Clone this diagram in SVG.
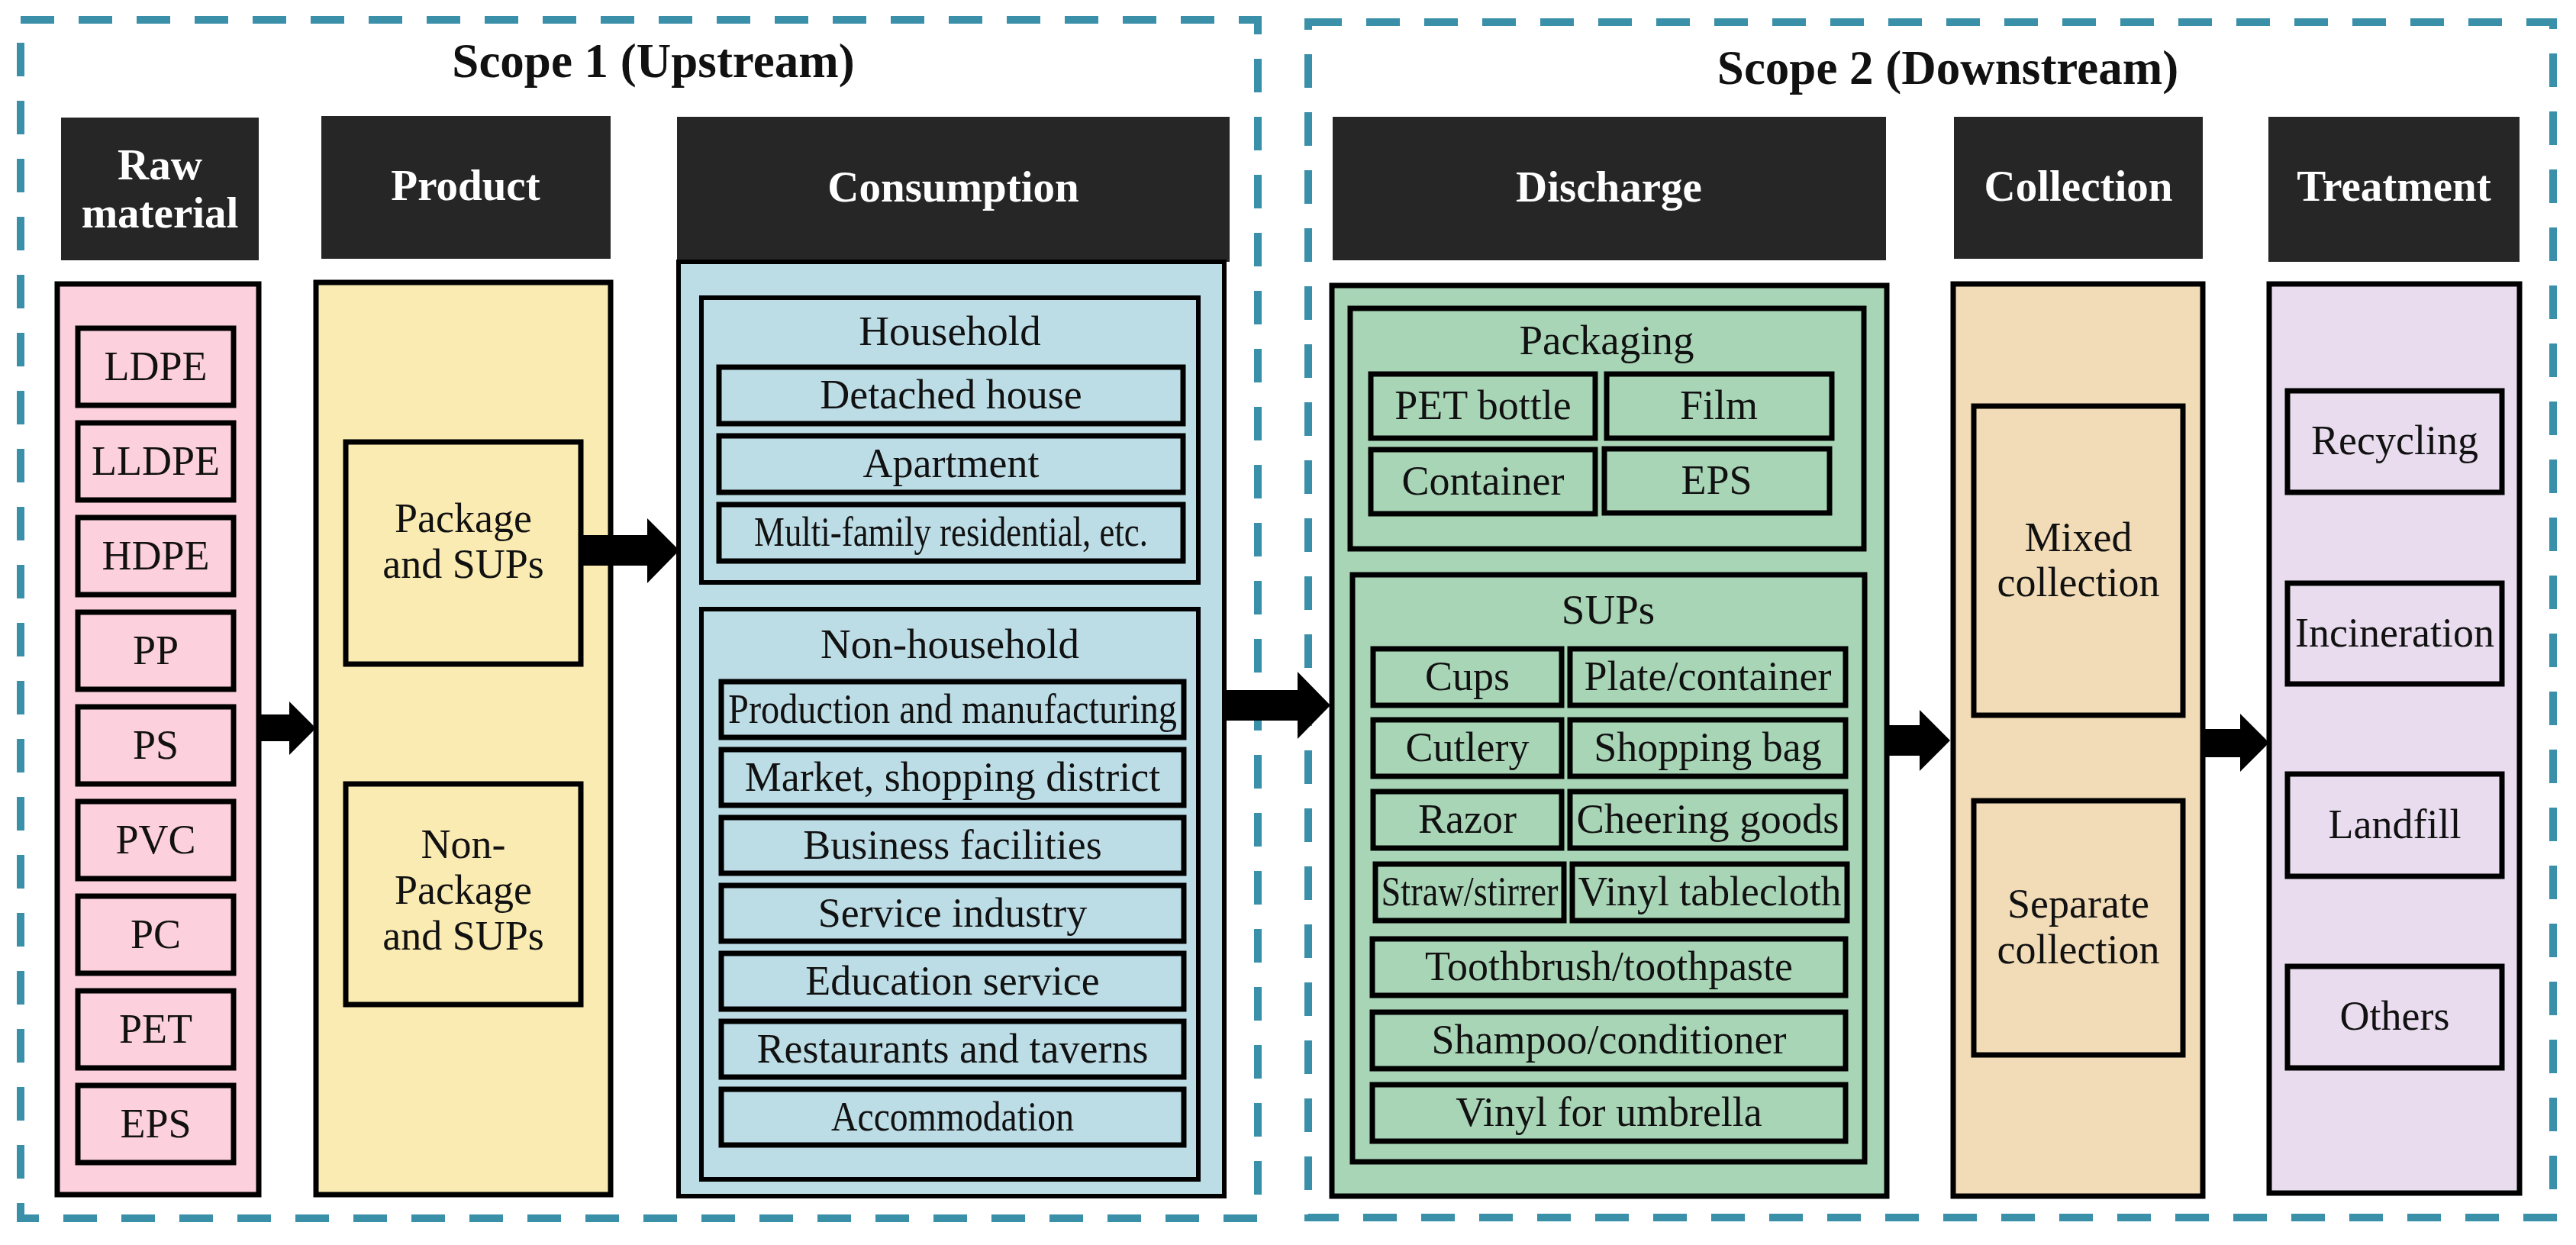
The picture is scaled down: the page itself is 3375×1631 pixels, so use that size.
<svg xmlns="http://www.w3.org/2000/svg" width="3375" height="1631" viewBox="0 0 3375 1631">
<style>
.scope{fill:none;stroke:#3a8fa9;stroke-width:10;stroke-dasharray:44 32}
.hdr{fill:#262626}
.ht{font-family:"Liberation Serif",serif;font-weight:bold;font-size:57px;fill:#fff;text-anchor:middle}
.st{font-family:"Liberation Serif",serif;font-weight:bold;font-size:63px;fill:#111;text-anchor:middle}
.t{font-family:"Liberation Serif",serif;font-size:54px;fill:#111;text-anchor:middle}
.gt{font-size:55px}
.b{stroke:#000;stroke-width:7}
.bt{stroke:#000;stroke-width:6}
.pink{fill:#fcd0dc}
.yel{fill:#f9ebb2}
.blu{fill:#bddde6}
.grn{fill:#a9d5b7}
.tan{fill:#f2dcb7}
.lav{fill:#e8dcee}
.arr{fill:#000}
</style>

<g id="scope1">
<rect class="scope" x="27" y="26" width="1621" height="1570"/>
<text class="st" x="856" y="101">Scope 1 (Upstream)</text>
</g>
<g id="scope2">
<rect class="scope" x="1714" y="29" width="1631" height="1566"/>
<text class="st" x="2552" y="110">Scope 2 (Downstream)</text>
</g>

<g id="hdr-raw"><rect class="hdr" x="80" y="154" width="259" height="187"/><text class="ht" x="209.5" y="235">Raw</text><text class="ht" x="209.5" y="298">material</text></g>
<g id="hdr-product"><rect class="hdr" x="421" y="152" width="379" height="187"/><text class="ht" x="610" y="262">Product</text></g>
<g id="hdr-consumption"><rect class="hdr" x="887" y="153" width="724" height="190"/><text class="ht" x="1249" y="264">Consumption</text></g>
<g id="hdr-discharge"><rect class="hdr" x="1746" y="153" width="725" height="188"/><text class="ht" x="2108" y="264">Discharge</text></g>
<g id="hdr-collection"><rect class="hdr" x="2560" y="153" width="326" height="186"/><text class="ht" x="2723" y="263">Collection</text></g>
<g id="hdr-treatment"><rect class="hdr" x="2972" y="153" width="329" height="190"/><text class="ht" x="3136.5" y="263">Treatment</text></g>

<g id="raw-material">
<rect class="b pink" x="75" y="372" width="264" height="1193"/>
<g id="raw-ldpe"><rect class="b pink" x="102" y="430" width="204" height="101"/><text class="t" x="204" y="498">LDPE</text></g>
<g id="raw-lldpe"><rect class="b pink" x="102" y="554" width="204" height="101"/><text class="t" x="204" y="622">LLDPE</text></g>
<g id="raw-hdpe"><rect class="b pink" x="102" y="678" width="204" height="101"/><text class="t" x="204" y="746">HDPE</text></g>
<g id="raw-pp"><rect class="b pink" x="102" y="802" width="204" height="101"/><text class="t" x="204" y="870">PP</text></g>
<g id="raw-ps"><rect class="b pink" x="102" y="926" width="204" height="101"/><text class="t" x="204" y="994">PS</text></g>
<g id="raw-pvc"><rect class="b pink" x="102" y="1050" width="204" height="101"/><text class="t" x="204" y="1118">PVC</text></g>
<g id="raw-pc"><rect class="b pink" x="102" y="1174" width="204" height="101"/><text class="t" x="204" y="1242">PC</text></g>
<g id="raw-pet"><rect class="b pink" x="102" y="1298" width="204" height="101"/><text class="t" x="204" y="1366">PET</text></g>
<g id="raw-eps"><rect class="b pink" x="102" y="1422" width="204" height="101"/><text class="t" x="204" y="1490">EPS</text></g>
</g>

<g id="product">
<rect class="b yel" x="414" y="370" width="386" height="1195"/>
<g id="prod-package"><rect class="b yel" x="453" y="579" width="308" height="291"/><text class="t" x="607" y="697">Package</text><text class="t" x="607" y="757">and SUPs</text></g>
<g id="prod-nonpackage"><rect class="b yel" x="453" y="1027" width="308" height="289"/><text class="t" x="607" y="1124">Non-</text><text class="t" x="607" y="1184">Package</text><text class="t" x="607" y="1244">and SUPs</text></g>
</g>

<g id="consumption">
<rect class="bt blu" x="889" y="343" width="715" height="1224"/>
<g id="cons-household">
<rect class="bt blu" x="919" y="390" width="651" height="373"/>
<text class="t gt" x="1244.5" y="452">Household</text>
<g id="cons-detached"><rect class="b blu" x="942" y="481" width="608" height="74"/><text class="t" x="1246" y="535">Detached house</text></g>
<g id="cons-apartment"><rect class="b blu" x="942" y="571" width="608" height="74"/><text class="t" x="1246" y="625">Apartment</text></g>
<g id="cons-multifamily"><rect class="b blu" x="942" y="661" width="608" height="74"/><text class="t" x="1246" y="715" textLength="516" lengthAdjust="spacingAndGlyphs">Multi-family residential, etc.</text></g>
</g>
<g id="cons-nonhousehold">
<rect class="bt blu" x="919" y="798" width="651" height="747"/>
<text class="t gt" x="1244.5" y="862">Non-household</text>
<g id="cons-production"><rect class="b blu" x="945" y="893" width="606" height="73"/><text class="t" x="1248" y="947" textLength="588" lengthAdjust="spacingAndGlyphs">Production and manufacturing</text></g>
<g id="cons-market"><rect class="b blu" x="945" y="982" width="606" height="73"/><text class="t" x="1248" y="1036">Market, shopping district</text></g>
<g id="cons-business"><rect class="b blu" x="945" y="1071" width="606" height="73"/><text class="t" x="1248" y="1125">Business facilities</text></g>
<g id="cons-service"><rect class="b blu" x="945" y="1160" width="606" height="73"/><text class="t" x="1248" y="1214">Service industry</text></g>
<g id="cons-education"><rect class="b blu" x="945" y="1249" width="606" height="73"/><text class="t" x="1248" y="1303">Education service</text></g>
<g id="cons-restaurants"><rect class="b blu" x="945" y="1338" width="606" height="73"/><text class="t" x="1248" y="1392">Restaurants and taverns</text></g>
<g id="cons-accommodation"><rect class="b blu" x="945" y="1427" width="606" height="73"/><text class="t" x="1248" y="1481" textLength="318" lengthAdjust="spacingAndGlyphs">Accommodation</text></g>
</g>
</g>

<g id="discharge">
<rect class="b grn" x="1745" y="374" width="727" height="1193"/>
<g id="dis-packaging">
<rect class="b grn" x="1769" y="404" width="673" height="315"/>
<text class="t gt" x="2105" y="464">Packaging</text>
<g id="dis-petbottle"><rect class="b grn" x="1796" y="490" width="294" height="84"/><text class="t" x="1943" y="549">PET bottle</text></g>
<g id="dis-film"><rect class="b grn" x="2105" y="490" width="295" height="84"/><text class="t" x="2252" y="549">Film</text></g>
<g id="dis-container"><rect class="b grn" x="1796" y="589" width="294" height="84"/><text class="t" x="1943" y="648">Container</text></g>
<g id="dis-eps"><rect class="b grn" x="2102" y="588" width="295" height="84"/><text class="t" x="2249" y="647">EPS</text></g>
</g>
<g id="dis-sups">
<rect class="b grn" x="1772" y="753" width="671" height="769"/>
<text class="t gt" x="2107" y="817">SUPs</text>
<g id="dis-cups"><rect class="b grn" x="1799" y="850" width="247" height="74"/><text class="t" x="1922.5" y="904">Cups</text></g>
<g id="dis-plate"><rect class="b grn" x="2057" y="850" width="361" height="74"/><text class="t" x="2237.5" y="904">Plate/container</text></g>
<g id="dis-cutlery"><rect class="b grn" x="1799" y="943" width="247" height="74"/><text class="t" x="1922.5" y="997">Cutlery</text></g>
<g id="dis-shoppingbag"><rect class="b grn" x="2057" y="943" width="361" height="74"/><text class="t" x="2237.5" y="997">Shopping bag</text></g>
<g id="dis-razor"><rect class="b grn" x="1799" y="1037" width="247" height="74"/><text class="t" x="1922.5" y="1091">Razor</text></g>
<g id="dis-cheering"><rect class="b grn" x="2057" y="1037" width="361" height="74"/><text class="t" x="2237.5" y="1091" textLength="344" lengthAdjust="spacingAndGlyphs">Cheering goods</text></g>
<g id="dis-straw"><rect class="b grn" x="1802" y="1132" width="247" height="74"/><text class="t" x="1925.5" y="1186" textLength="232" lengthAdjust="spacingAndGlyphs">Straw/stirrer</text></g>
<g id="dis-tablecloth"><rect class="b grn" x="2060" y="1132" width="360" height="74"/><text class="t" x="2240" y="1186" textLength="345" lengthAdjust="spacingAndGlyphs">Vinyl tablecloth</text></g>
<g id="dis-toothbrush"><rect class="b grn" x="1798" y="1230" width="620" height="74"/><text class="t" x="2108" y="1284">Toothbrush/toothpaste</text></g>
<g id="dis-shampoo"><rect class="b grn" x="1798" y="1326" width="620" height="74"/><text class="t" x="2108" y="1380">Shampoo/conditioner</text></g>
<g id="dis-umbrella"><rect class="b grn" x="1798" y="1421" width="620" height="74"/><text class="t" x="2108" y="1475">Vinyl for umbrella</text></g>
</g>
</g>

<g id="collection">
<rect class="b tan" x="2559" y="372" width="327" height="1195"/>
<g id="col-mixed"><rect class="b tan" x="2586" y="532" width="274" height="405"/><text class="t" x="2723" y="722">Mixed</text><text class="t" x="2723" y="781">collection</text></g>
<g id="col-separate"><rect class="b tan" x="2586" y="1049" width="274" height="333"/><text class="t" x="2723" y="1202">Separate</text><text class="t" x="2723" y="1262">collection</text></g>
</g>

<g id="treatment">
<rect class="b lav" x="2973" y="372" width="328" height="1191"/>
<g id="trt-recycling"><rect class="b lav" x="2997" y="512" width="281" height="133"/><text class="t" x="3137.5" y="595">Recycling</text></g>
<g id="trt-incineration"><rect class="b lav" x="2997" y="764" width="281" height="132"/><text class="t" x="3137.5" y="847">Incineration</text></g>
<g id="trt-landfill"><rect class="b lav" x="2997" y="1014" width="281" height="134"/><text class="t" x="3137.5" y="1098">Landfill</text></g>
<g id="trt-others"><rect class="b lav" x="2997" y="1266" width="281" height="133"/><text class="t" x="3137.5" y="1349">Others</text></g>
</g>

<g id="connectors">
<polygon class="arr" points="339,936 379,936 379,919 414,954 379,989 379,971 339,971"/>
<polygon class="arr" points="761,701 848,701 848,679 890,721 848,764 848,741 761,741"/>
<polygon class="arr" points="1604,904 1700,904 1700,880 1743,924 1700,968 1700,944 1604,944"/>
<polygon class="arr" points="2472,950 2515,950 2515,930 2555,970 2515,1010 2515,990 2472,990"/>
<polygon class="arr" points="2886,955 2935,955 2935,935 2973,973 2935,1011 2935,992 2886,992"/>
</g>
</svg>
